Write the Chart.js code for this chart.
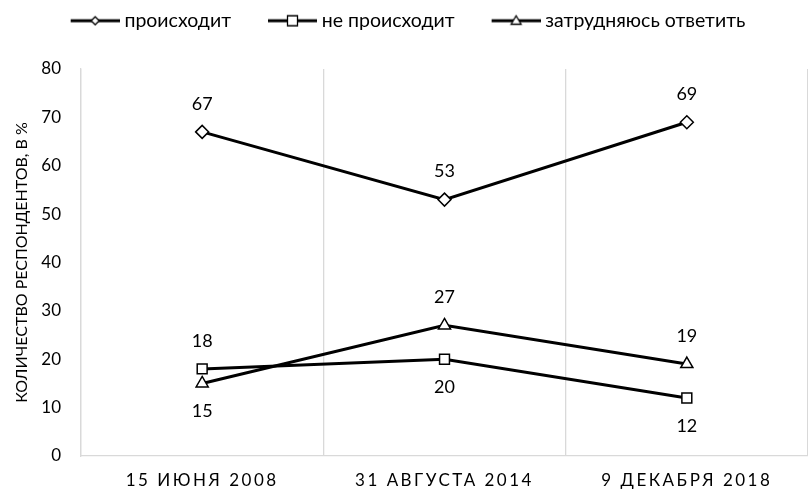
<!DOCTYPE html>
<html>
<head>
<meta charset="utf-8">
<script src="https://cdn.jsdelivr.net/npm/chart.js@4"></script>
<style>
  html, body { margin: 0; padding: 0; background: #fff; }
  #wrap { width: 808px; height: 489px; }
</style>
</head>
<body>
<div id="wrap"><canvas id="chart" width="808" height="489"></canvas></div>
<script>
// данные опроса
const categories = ['15 ИЮНЯ 2008', '31 АВГУСТА 2014', '9 ДЕКАБРЯ 2018'];
const seriesNames = ['происходит', 'не происходит', 'затрудняюсь ответить'];
const happens = [67, 53, 69];
const notHappens = [18, 20, 12];
const hardToSay = [15, 27, 19];
const yTicks = [0, 10, 20, 30, 40, 50, 60, 70, 80];

// где ставить подписи: -1 сверху, 1 снизу
const labelPos = [
  [-1, -1, -1],
  [-1, 1, 1],
  [1, -1, -1]
];

const styles = ['rectRot', 'rect', 'triangle'];
const radii = [6.5, 7, 7];

// картинка для легенды: линия + маркер, сдвинута вправо (отступ между пунктами)
const BOX = 70;
function legendIcon(style, r) {
  const c = document.createElement('canvas');
  c.width = BOX + 10; c.height = 16;
  const ctx = c.getContext('2d');
  const x0 = 31, x1 = x0 + 49, cx = (x0 + x1) / 2, cy = 8;
  ctx.strokeStyle = '#000';
  ctx.lineWidth = 3;
  ctx.beginPath(); ctx.moveTo(x0, cy); ctx.lineTo(x1, cy); ctx.stroke();
  ctx.fillStyle = '#fff';
  ctx.lineWidth = 1.3;
  ctx.beginPath();
  if (style === 'rectRot') {
    ctx.moveTo(cx, cy - r); ctx.lineTo(cx + r, cy); ctx.lineTo(cx, cy + r); ctx.lineTo(cx - r, cy); ctx.closePath();
  } else if (style === 'rect') {
    ctx.rect(cx - r, cy - r, 2 * r, 2 * r);
  } else {
    ctx.moveTo(cx, cy - r); ctx.lineTo(cx + r, cy + r * 0.7); ctx.lineTo(cx - r, cy + r * 0.7); ctx.closePath();
  }
  ctx.fill(); ctx.stroke();
  return c;
}
const icons = [legendIcon('rectRot', 4), legendIcon('rect', 5), legendIcon('triangle', 5)];

const valueLabels = {
  id: 'valueLabels',
  afterDatasetsDraw(chart) {
    const ctx = chart.ctx;
    ctx.save();
    ctx.font = '18px Lato';
    ctx.fillStyle = '#000';
    ctx.textAlign = 'center';
    ctx.textBaseline = 'middle';
    chart.data.datasets.forEach((ds, i) => {
      chart.getDatasetMeta(i).data.forEach((pt, j) => {
        ctx.fillText(ds.data[j], pt.x, pt.y + labelPos[i][j] * 28);
      });
    });
    ctx.restore();
  }
};

// разрядка букв в подписях оси X
const spacedX = {
  id: 'spacedX',
  afterLayout(chart) {
    const s = chart.scales.x;
    if (s && !s._spaced) {
      const orig = s.drawLabels.bind(s);
      s.drawLabels = function (area) {
        this.ctx.save();
        this.ctx.letterSpacing = '2.5px';
        orig(area);
        this.ctx.restore();
      };
      s._spaced = true;
    }
  }
};

// место под легендой и небольшой сдвиг влево
const legendGap = {
  id: 'legendGap',
  beforeInit(chart) {
    const lg = chart.legend;
    const fit = lg.fit;
    lg.fit = function () {
      fit.call(this);
      this.height += 28.5;
    };
    const draw = lg.draw;
    lg.draw = function () {
      this.ctx.save();
      this.ctx.translate(-18, 0);
      draw.call(this);
      this.ctx.restore();
    };
  }
};

const allData = [happens, notHappens, hardToSay];

new Chart(document.getElementById('chart'), {
  type: 'line',
  data: {
    labels: categories,
    datasets: allData.map((d, i) => ({
      label: seriesNames[i],
      data: d,
      borderColor: '#000',
      borderWidth: 3,
      pointStyle: styles[i],
      pointRadius: radii[i],
      pointBorderWidth: 1.5,
      pointBackgroundColor: '#fff',
      pointBorderColor: '#000',
      tension: 0
    }))
  },
  options: {
    responsive: false,
    animation: false,
    layout: { autoPadding: false, padding: { left: 12, right: -6, top: 0, bottom: 0 } },
    plugins: {
      legend: {
        position: 'top',
        labels: {
          usePointStyle: true,
          boxWidth: BOX,
          pointStyleWidth: BOX,
          padding: 11,
          color: '#000',
          font: { family: 'Lato', size: 19.5 },
          generateLabels(chart) {
            return chart.data.datasets.map((ds, i) => ({
              text: ds.label,
              pointStyle: icons[i],
              datasetIndex: i,
              fillStyle: '#fff',
              strokeStyle: '#000',
              lineWidth: 0,
              fontColor: '#000'
            }));
          }
        }
      },
      tooltip: { enabled: false }
    },
    scales: {
      x: {
        offset: true,
        afterFit(scale) { scale.height = 33; },
        grid: { display: true, offset: true, color: '#d9d9d9', lineWidth: 1.3, drawTicks: false },
        border: { display: true, color: '#d9d9d9', width: 1.3 },
        ticks: { color: '#000', font: { family: 'Lato', size: 17 }, padding: 14, maxRotation: 0 }
      },
      y: {
        min: 0,
        max: 80,
        afterBuildTicks(scale) { scale.ticks = yTicks.map(v => ({ value: v })); },
        afterFit(scale) { scale.width = 69; },
        grid: { display: false, drawTicks: false },
        border: { display: true, color: '#d9d9d9', width: 1.3 },
        ticks: { color: '#000', font: { family: 'Lato', size: 17 }, padding: 20 },
        title: {
          display: true,
          text: 'КОЛИЧЕСТВО РЕСПОНДЕНТОВ, В %',
          color: '#000',
          font: { family: 'Lato', size: 16 },
          padding: { top: 0, bottom: -4 }
        }
      }
    }
  },
  plugins: [valueLabels, spacedX, legendGap]
});
</script>
</body>
</html>
